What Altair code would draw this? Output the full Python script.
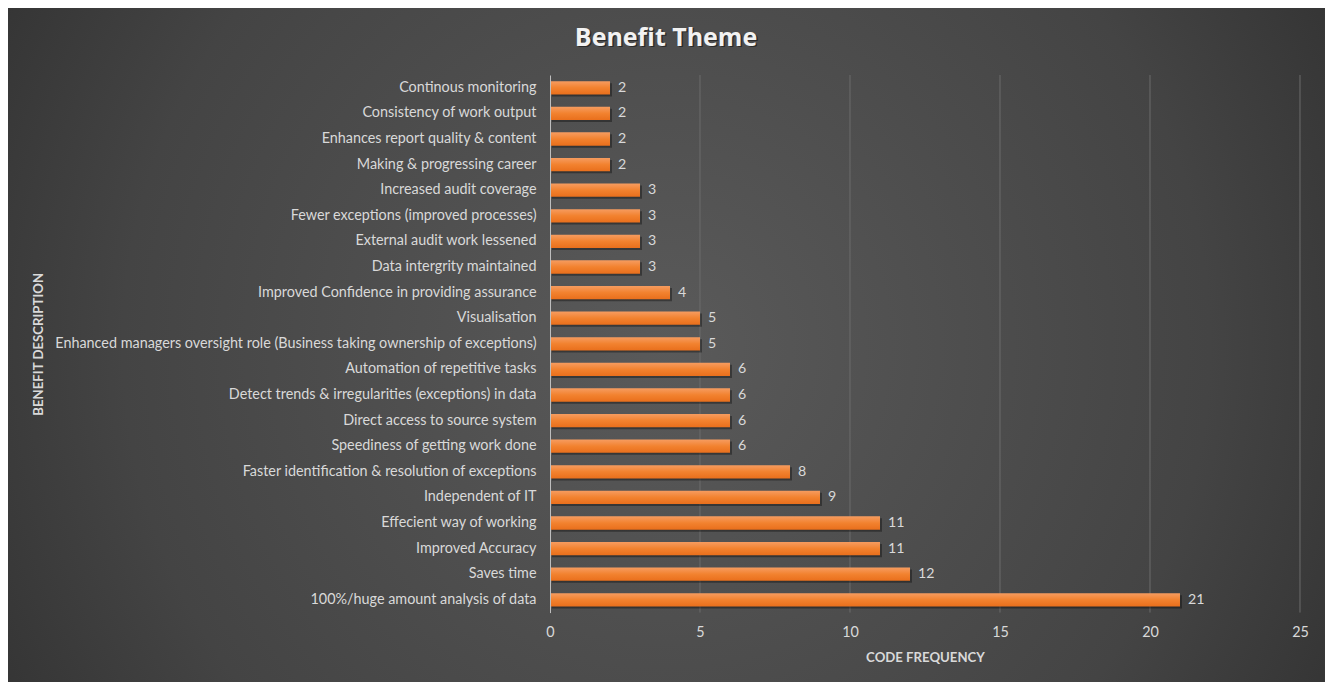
import altair as alt
import pandas as pd

title_text = ["Benefit Theme"]
categories = [
    "Continous monitoring",
    "Consistency of work output",
    "Enhances report quality & content",
    "Making & progressing career",
    "Increased audit coverage",
    "Fewer exceptions (improved processes)",
    "External audit work lessened",
    "Data intergrity maintained",
    "Improved Confidence in providing assurance",
    "Visualisation",
    "Enhanced managers oversight role (Business taking ownership of exceptions)",
    "Automation of repetitive tasks",
    "Detect trends & irregularities (exceptions) in data",
    "Direct access to source system",
    "Speediness of getting work done",
    "Faster identification & resolution of exceptions",
    "Independent of IT",
    "Effecient way of working",
    "Improved Accuracy",
    "Saves time",
    "100%/huge amount analysis of data",
]
values = [2, 2, 2, 2, 3, 3, 3, 3, 4, 5, 5, 6, 6, 6, 6, 8, 9, 11, 11, 12, 21]
x_ticks = [0, 5, 10, 15, 20, 25]

W, H = 750, 537.6
PL, PT, PR, PB = 542, 67, 25, 70
FONT = "Lato"
LABEL = "#d9d9d9"

df = pd.DataFrame({"benefit": categories, "freq": values})
grid_df = pd.DataFrame({"t": x_ticks[1:]})
title_df = pd.DataFrame({"title": title_text})

xscale = alt.Scale(domain=[0, 25])
yscale = alt.Scale(domain=categories, paddingInner=0.48, paddingOuter=0.24)

bg = alt.Chart(pd.DataFrame({"a": [0]})).mark_rect(
    color=alt.Gradient(
        gradient="radial",
        x1=0.5, y1=0.5, r1=0.0,
        x2=0.5, y2=0.5, r2=0.75,
        stops=[
            alt.GradientStop(offset=0, color="#5a5a5a"),
            alt.GradientStop(offset=0.55, color="#444444"),
            alt.GradientStop(offset=1, color="#232323"),
        ],
    )
).encode(
    x=alt.value(-PL), x2=alt.value(W + PR),
    y=alt.value(-PT), y2=alt.value(H + PB),
)

TX, TY = 666 - 8 - PL, 38 - 8 - PT

title_shadow = alt.Chart(title_df).mark_text(
    font="Open Sans", fontSize=25, fontWeight="bold", color="#000000", opacity=0.45,
    align="center", baseline="middle",
).encode(
    x=alt.value(TX + 1.5), y=alt.value(TY + 1.5), text="title:N",
)

title = alt.Chart(title_df).mark_text(
    font="Open Sans", fontSize=25, fontWeight="bold", color="#f2f2f2",
    align="center", baseline="middle",
).encode(
    x=alt.value(TX), y=alt.value(TY), text="title:N",
)

grid = alt.Chart(grid_df).mark_rule(color="#6b6b6b", strokeWidth=1).encode(
    x=alt.X("t:Q", scale=xscale),
    y=alt.value(0), y2=alt.value(H),
)

shadow = alt.Chart(df).mark_bar(color="#000000", opacity=0.35, yOffset=2, xOffset=2).encode(
    x=alt.X("freq:Q", scale=xscale),
    y=alt.Y("benefit:N", scale=yscale),
)

bars = alt.Chart(df).mark_bar(
    color=alt.Gradient(
        gradient="linear", x1=0, y1=0, x2=0, y2=1,
        stops=[
            alt.GradientStop(offset=0, color="#f69c60"),
            alt.GradientStop(offset=0.5, color="#f2822f"),
            alt.GradientStop(offset=1, color="#e96f1c"),
        ],
    )
).encode(
    x=alt.X(
        "freq:Q", scale=xscale,
        axis=alt.Axis(
            title="CODE FREQUENCY", values=x_ticks, grid=False, domain=False, ticks=False,
            labelPadding=13, titlePadding=13, zindex=1, labelFlush=False,
        ),
    ),
    y=alt.Y(
        "benefit:N", scale=yscale, sort=categories,
        axis=alt.Axis(
            title="BENEFIT DESCRIPTION", ticks=False, labelPadding=14, zindex=1,
            domainColor="#bfbfbf", labelLimit=600, titleX=-512, titleY=H / 2,
            titleAngle=270, titleBaseline="middle", titleAlign="center",
        ),
    ),
)

text = alt.Chart(df).mark_text(
    align="left", baseline="middle", dx=8, color=LABEL, font=FONT, fontSize=14.2
).encode(
    x=alt.X("freq:Q", scale=xscale),
    y=alt.Y("benefit:N", scale=yscale),
    text="freq:Q",
)

chart = alt.layer(bg, title_shadow, title, grid, shadow, bars, text).properties(
    width=W, height=H,
    autosize=alt.AutoSizeParams(type="none"),
    padding={"left": PL, "top": PT, "right": PR, "bottom": PB},
).configure(background="#ffffff").configure_view(stroke=None).configure_axis(
    labelFont=FONT, labelFontSize=14.4, labelColor=LABEL,
    titleFont=FONT, titleFontSize=13.2, titleFontWeight="bold", titleColor=LABEL,
)

chart.save("out.html", embed_options={"renderer": "svg", "actions": False})
